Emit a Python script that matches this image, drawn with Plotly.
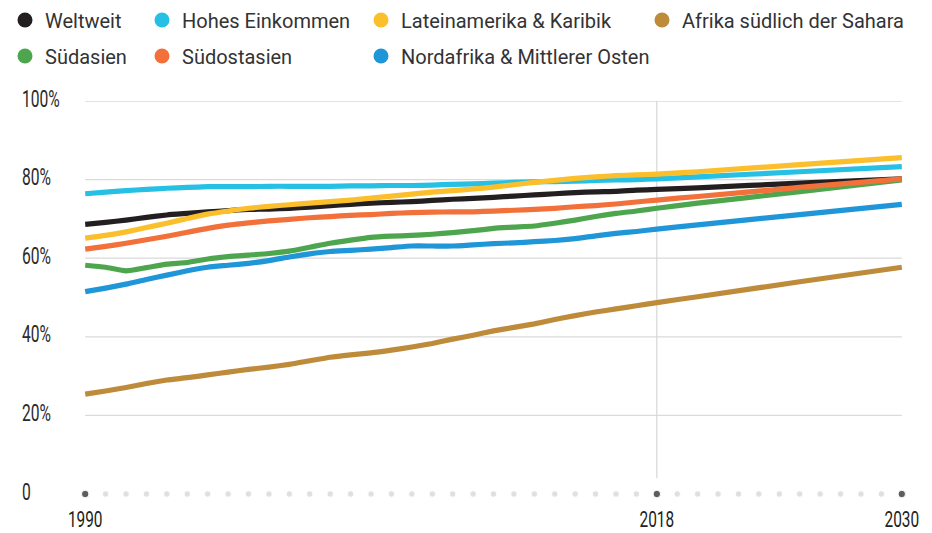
import plotly.graph_objects as go

# ---------------- data ----------------
years = list(range(1990, 2019)) + [2020, 2025, 2030]

weltweit = [68.6, 69.1, 69.7, 70.4, 71.0, 71.4, 71.8, 72.1, 72.4, 72.5,
            72.7, 73.0, 73.4, 73.7, 74.0, 74.2, 74.4, 74.7, 75.0, 75.2,
            75.5, 75.8, 76.1, 76.4, 76.7, 76.9, 77.0, 77.3, 77.5,
            77.9, 79.1, 80.2]
hohes_einkommen = [76.4, 76.8, 77.2, 77.5, 77.8, 78.0, 78.2, 78.2, 78.2, 78.3,
                   78.3, 78.3, 78.3, 78.4, 78.4, 78.5, 78.5, 78.6, 78.8, 78.9,
                   79.1, 79.3, 79.4, 79.5, 79.6, 79.8, 79.9, 80.0, 80.2,
                   80.7, 82.0, 83.3]
lateinamerika = [65.1, 65.8, 66.7, 67.8, 68.9, 70.1, 71.2, 72.0, 72.7, 73.2,
                 73.6, 74.0, 74.4, 74.8, 75.3, 75.8, 76.3, 76.8, 77.2, 77.6,
                 78.1, 78.7, 79.3, 79.8, 80.3, 80.7, 81.0, 81.2, 81.4,
                 82.0, 83.8, 85.6]
afrika_sahara = [25.4, 26.2, 27.1, 28.1, 29.0, 29.6, 30.3, 31.0, 31.7, 32.3,
                 33.0, 33.9, 34.8, 35.4, 35.9, 36.6, 37.4, 38.3, 39.4, 40.4,
                 41.5, 42.4, 43.3, 44.4, 45.4, 46.3, 47.1, 47.9, 48.7,
                 50.2, 54.0, 57.7]
suedasien = [58.2, 57.7, 56.8, 57.6, 58.5, 58.9, 59.8, 60.4, 60.8, 61.2,
             61.8, 62.8, 63.8, 64.6, 65.3, 65.6, 65.8, 66.1, 66.5, 67.0,
             67.6, 67.9, 68.2, 68.9, 69.7, 70.6, 71.4, 72.0, 72.7,
             74.0, 76.9, 79.9]
suedostasien = [62.3, 63.0, 63.8, 64.7, 65.6, 66.6, 67.6, 68.4, 69.0, 69.5,
                69.9, 70.3, 70.6, 70.9, 71.1, 71.4, 71.6, 71.7, 71.8, 71.8,
                72.0, 72.2, 72.4, 72.7, 73.1, 73.4, 73.8, 74.3, 74.8,
                75.7, 78.0, 80.2]
nordafrika = [51.5, 52.4, 53.4, 54.6, 55.7, 56.8, 57.7, 58.2, 58.7, 59.4,
              60.3, 61.1, 61.7, 62.0, 62.3, 62.7, 63.1, 63.1, 63.1, 63.4,
              63.7, 63.9, 64.2, 64.5, 65.0, 65.7, 66.3, 66.8, 67.4,
              68.5, 71.1, 73.7]

series_names = ["Weltweit", "Hohes Einkommen", "Lateinamerika & Karibik",
                "Afrika südlich der Sahara", "Südasien", "Südostasien",
                "Nordafrika & Mittlerer Osten"]
series_values = [weltweit, hohes_einkommen, lateinamerika, afrika_sahara,
                 suedasien, suedostasien, nordafrika]
series_colors = ["#231f20", "#26c0e4", "#fbbf2b", "#bd8b3a",
                 "#4da64e", "#f2703a", "#1f96d7"]

y_ticks = [0, 20, 40, 60, 80, 100]
y_tick_labels = ["0", "20%", "40%", "60%", "80%", "100%"]
axis_years = list(range(1990, 2031))
highlight_years = [1990, 2018, 2030]

# ---------------- layout geometry ----------------
W, H = 932, 533
x_min, x_max = 1989.5, 2030.5
px_per_year = (902 - 85) / 40
L = 85 - (1990 - x_min) * px_per_year
plot_w = (x_max - x_min) * px_per_year
R = W - L - plot_w
T, B = 101, 39

axis_font = "Roboto, sans-serif"
legend_font = "Roboto, Noto Sans, sans-serif"

fig = go.Figure()

# gridlines
shapes = []
for v in y_ticks[1:]:
    shapes.append(dict(type="line", xref="x", yref="y", x0=axis_years[0], x1=axis_years[-1],
                       y0=v, y1=v, line=dict(color="#dadada", width=1.3), layer="below"))
for yr in highlight_years[1:-1]:
    shapes.append(dict(type="line", xref="x", yref="y", x0=yr, x1=yr, y0=4, y1=y_ticks[-1],
                       line=dict(color="#d6d6d6", width=1.2), layer="below"))

# data lines
for name, vals, col in zip(series_names, series_values, series_colors):
    fig.add_trace(go.Scatter(x=years, y=vals, mode="lines", name=name,
                             line=dict(color=col, width=5.2, shape="spline", smoothing=0.5),
                             showlegend=False, hoverinfo="skip"))

# axis dots
fig.add_trace(go.Scatter(
    x=axis_years, y=[y_ticks[0]] * len(axis_years), mode="markers",
    marker=dict(size=[7.5 if y in highlight_years else 6.5 for y in axis_years],
                color=["#1a1a1a" if y in highlight_years else "#d3d3d3" for y in axis_years]),
    cliponaxis=False, showlegend=False, hoverinfo="skip"))

# legends: one legend per item, placed in a grid
legend_pos = [(26, 20), (163, 20), (382, 20), (663, 20),
              (26, 56), (163, 56), (382, 56)]
for i, (name, col) in enumerate(zip(series_names, series_colors)):
    lg = "legend" if i == 0 else f"legend{i+1}"
    fig.add_trace(go.Scatter(x=[1990], y=[None], mode="markers", name=name,
                             marker=dict(size=15, color=col), legend=lg,
                             showlegend=True, hoverinfo="skip"))

legend_layouts = {}
for i, (mx, my) in enumerate(legend_pos):
    lg = "legend" if i == 0 else f"legend{i+1}"
    legend_layouts[lg] = dict(
        x=(mx - 21) / W, y=1 - my / H, xref="container", yref="container",
        xanchor="left", yanchor="middle", bgcolor="rgba(0,0,0,0)",
        borderwidth=0, font=dict(family=legend_font, size=20, color="#333333"),
        itemclick=False, itemdoubleclick=False)

# y tick labels as left aligned annotations
annotations = []
for v, lab in zip(y_ticks, y_tick_labels):
    annotations.append(dict(x=(20 - L) / plot_w, xref="paper", y=v, yref="y",
                            text=lab, showarrow=False, xanchor="left", yanchor="middle",
                            yshift=2,
                            font=dict(family=axis_font, size=23, color="#2a2a2a")))

fig.update_layout(
    width=W, height=H,
    margin=dict(l=L, r=R, t=T, b=B, pad=0, autoexpand=False),
    paper_bgcolor="white", plot_bgcolor="white",
    shapes=shapes, annotations=annotations,
    xaxis=dict(range=[x_min, x_max], tickvals=highlight_years,
               ticktext=[str(y) for y in highlight_years],
               showgrid=False, zeroline=False, showline=False, ticks="",
               ticklabelstandoff=10, automargin=False,
               tickfont=dict(family=axis_font, size=22, color="#222222")),
    yaxis=dict(range=[y_ticks[0], y_ticks[-1]], showgrid=False, zeroline=False,
               showline=False, showticklabels=False, ticks="", automargin=False),
    **legend_layouts,
)

# condensed look for axis labels (the reference uses a condensed face)
post_js = """
document.body.style.margin='0';
document.body.style.overflow='hidden';
var gd = document.getElementById('{plot_id}');
function squeeze(){
  var k = 0.68;
  gd.querySelectorAll('.xtick text').forEach(function(t){
    if (t.getAttribute('data-sq')) return;
    var w = t.getComputedTextLength();
    t.setAttribute('textLength', w*0.7);
    t.setAttribute('lengthAdjust', 'spacingAndGlyphs');
    t.setAttribute('data-sq', '1');
  });
  gd.querySelectorAll('text.annotation-text').forEach(function(t){
    if (t.getAttribute('data-sq')) return;
    var b = t.getBBox();
    var w = t.getComputedTextLength();
    t.setAttribute('text-anchor', 'start');
    t.style.textAnchor = 'start';
    t.setAttribute('x', b.x);
    t.setAttribute('textLength', w*k);
    t.setAttribute('lengthAdjust', 'spacingAndGlyphs');
    t.setAttribute('data-sq', '1');
  });
}
squeeze();
setTimeout(squeeze, 0);
if (gd.on) { gd.on('plotly_afterplot', squeeze); }
"""

fig.write_html("out.html", config={"displayModeBar": False}, post_script=post_js)
